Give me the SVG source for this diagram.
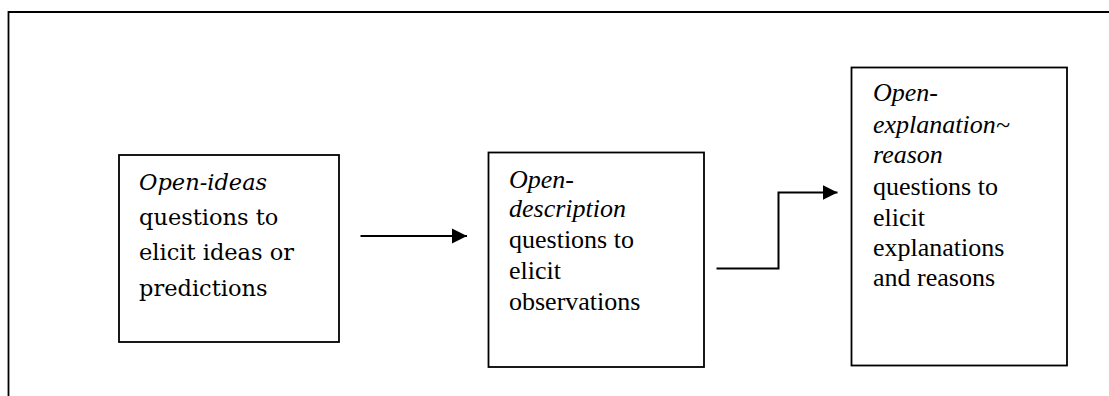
<svg xmlns="http://www.w3.org/2000/svg" width="1109" height="396" viewBox="0 0 1109 396">
<defs>
<style>
.frame{fill:none;stroke:#000;stroke-width:1.8}
.box{fill:#fff;stroke:#000;stroke-width:1.8}
.conn{fill:none;stroke:#000;stroke-width:2}
.t1{font-family:"DejaVu Serif",serif;font-size:22.5px;fill:#000}
.t2{font-family:"Liberation Serif","Times New Roman",serif;font-size:26px;fill:#000}
.it{font-style:italic}
</style>
<marker id="arr" markerWidth="16" markerHeight="16" refX="15" refY="8" orient="auto" markerUnits="userSpaceOnUse">
<path d="M0,0.5 L15,8 L0,15.5 Z" fill="#000"/>
</marker>
</defs>
<rect width="1109" height="396" fill="#fff"/>
<path class="frame" d="M8.5,400 L8.5,12 L1112,12"/>
<g id="node1">
<rect class="box" x="119" y="155" width="220" height="187"/>
<text class="t1"><tspan class="it" x="139" y="190">Open-ideas</tspan><tspan x="139" y="225">questions to</tspan><tspan x="139" y="260">elicit ideas or</tspan><tspan x="139" y="296">predictions</tspan></text>
</g>
<g id="node2">
<rect class="box" x="488.5" y="152.5" width="215.5" height="214.5"/>
<text class="t2"><tspan class="it" x="509" y="188">Open-</tspan><tspan class="it" x="509" y="217">description</tspan><tspan x="509" y="248">questions to</tspan><tspan x="509" y="279">elicit</tspan><tspan x="509" y="310">observations</tspan></text>
</g>
<g id="node3">
<rect class="box" x="851.5" y="67.5" width="215.5" height="298"/>
<text class="t2"><tspan class="it" x="873" y="101">Open-</tspan><tspan class="it" x="873" y="133">explanation~</tspan><tspan class="it" x="873" y="163">reason</tspan><tspan x="873" y="195">questions to</tspan><tspan x="873" y="226">elicit</tspan><tspan x="873" y="256">explanations</tspan><tspan x="873" y="286">and reasons</tspan></text>
</g>
<g id="connectors">
<path class="conn" d="M360.5,236 L467,236" marker-end="url(#arr)"/>
<path class="conn" d="M716.5,268.5 L778.5,268.5 L778.5,192.5 L837.5,192.5" marker-end="url(#arr)"/>
</g>
</svg>
